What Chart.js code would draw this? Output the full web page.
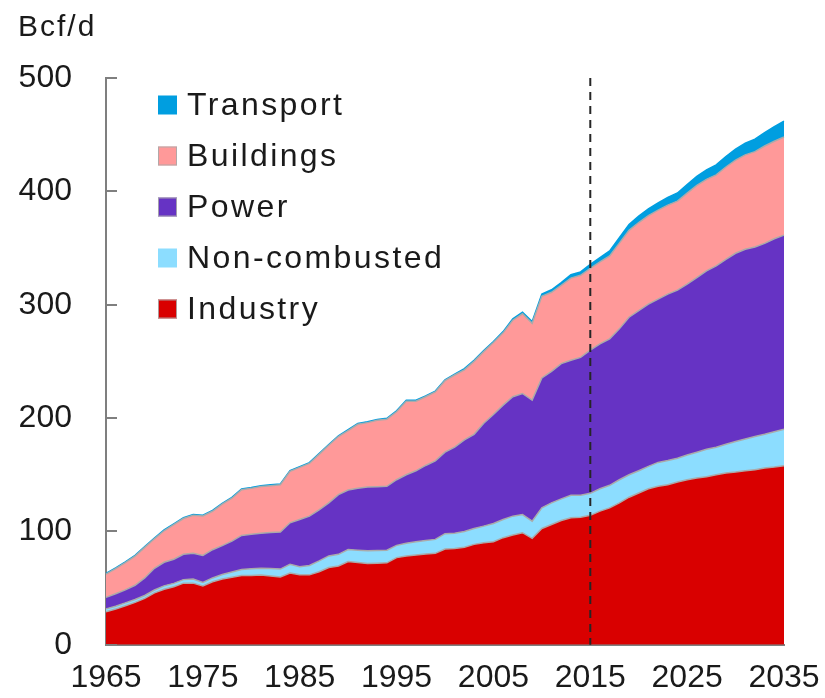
<!DOCTYPE html>
<html>
<head>
<meta charset="utf-8">
<script src="https://cdn.jsdelivr.net/npm/chart.js@4.4.1/dist/chart.umd.min.js"></script>
<style>
  html, body { margin: 0; padding: 0; background: #fff; }
  #wrap { width: 825px; height: 698px; }
</style>
</head>
<body>
<div id="wrap"><canvas id="chart"></canvas></div>
<script>
// years on the x axis
const years = [
  1965, 1966, 1967, 1968, 1969, 1970, 1971, 1972, 1973, 1974,
  1975, 1976, 1977, 1978, 1979, 1980, 1981, 1982, 1983, 1984,
  1985, 1986, 1987, 1988, 1989, 1990, 1991, 1992, 1993, 1994,
  1995, 1996, 1997, 1998, 1999, 2000, 2001, 2002, 2003, 2004,
  2005, 2006, 2007, 2008, 2009, 2010, 2011, 2012, 2013, 2014,
  2015, 2016, 2017, 2018, 2019, 2020, 2021, 2022, 2023, 2024,
  2025, 2026, 2027, 2028, 2029, 2030, 2031, 2032, 2033, 2034, 2035
];

// Bcf/d per sector (stacked, bottom to top)
const industry = [
  29.2, 31.5, 34.5, 37.4, 41.0, 45.8, 49.0, 51.2, 54.4, 54.4,
  52.0, 55.6, 58.0, 59.6, 61.1, 61.1, 61.6, 60.7, 59.8, 63.3,
  61.7, 61.7, 64.5, 68.2, 69.6, 73.4, 72.5, 71.7, 72.0, 72.3,
  76.9, 78.4, 79.3, 80.0, 80.7, 84.5, 85.0, 86.0, 88.6, 90.1,
  91.0, 94.5, 96.8, 98.9, 93.9, 102.6, 106.1, 109.6, 112.0, 112.6,
  114.2, 117.9, 120.8, 125.2, 130.2, 133.9, 137.7, 139.8, 141.2, 143.6,
  145.6, 147.1, 148.2, 150.0, 151.5, 152.4, 153.5, 154.4, 155.9, 156.8, 157.9
];
const nonCombusted = [
  2.5, 2.5, 2.5, 2.6, 2.5, 2.5, 3.0, 3.0, 3.1, 3.6,
  3.0, 3.4, 4.0, 4.6, 5.4, 5.9, 6.0, 6.5, 7.0, 7.7,
  7.1, 8.3, 9.5, 10.2, 10.2, 10.6, 11.0, 11.3, 11.2, 11.1,
  10.8, 11.1, 11.7, 12.0, 12.3, 13.5, 13.5, 14.0, 14.0, 14.6,
  16.0, 16.0, 16.7, 16.0, 15.2, 18.2, 19.1, 19.1, 19.9, 19.4,
  19.4, 19.8, 19.9, 20.4, 19.8, 19.6, 19.7, 21.1, 21.4, 21.0,
  21.9, 22.8, 24.3, 24.3, 25.4, 26.9, 28.1, 29.3, 29.8, 31.2, 32.2
];
const power = [
  10.1, 11.0, 11.5, 12.5, 15.5, 19.2, 20.8, 21.3, 22.3, 22.7,
  23.8, 24.9, 25.5, 27.3, 30.0, 30.5, 30.7, 31.8, 32.6, 36.6,
  41.8, 43.5, 45.0, 46.8, 52.7, 52.5, 54.5, 56.2, 56.3, 56.4,
  57.9, 60.5, 62.5, 66.2, 69.3, 71.9, 75.8, 80.7, 83.1, 90.7,
  96.2, 100.9, 105.3, 106.8, 106.7, 114.6, 116.0, 119.3, 119.1, 121.5,
  126.4, 127.8, 129.2, 133.1, 139.0, 141.2, 143.2, 144.1, 146.8, 148.3,
  150.7, 154.1, 157.3, 159.9, 163.2, 166.1, 167.3, 167.2, 168.4, 170.2, 171.3
];
const buildings = [
  20.5, 22.2, 24.0, 25.7, 26.9, 26.0, 27.8, 30.5, 31.6, 33.6,
  34.8, 33.9, 36.5, 37.8, 40.3, 40.5, 41.3, 41.4, 41.8, 45.4,
  45.9, 46.5, 49.0, 50.8, 51.2, 52.5, 56.5, 56.8, 58.5, 59.2,
  60.0, 64.9, 61.4, 60.6, 60.7, 63.1, 63.7, 61.9, 64.3, 63.2,
  63.4, 63.8, 67.5, 70.3, 67.8, 72.0, 69.8, 69.0, 72.5, 72.5,
  72.0, 72.2, 73.2, 75.6, 76.6, 77.8, 78.0, 78.4, 78.5, 78.5,
  80.2, 81.2, 80.8, 80.4, 81.4, 82.1, 83.3, 84.1, 85.9, 86.0, 86.6
];
const transport = [
  0.7, 0.7, 0.7, 0.7, 0.7, 0.7, 0.7, 0.7, 0.7, 0.7,
  0.7, 0.7, 0.7, 0.7, 0.7, 0.7, 0.7, 0.7, 0.7, 0.7,
  0.7, 0.7, 0.7, 0.7, 0.7, 0.8, 0.8, 0.8, 0.8, 0.8,
  0.8, 0.8, 0.8, 0.8, 0.8, 0.8, 0.8, 1.0, 1.0, 1.0,
  1.0, 1.1, 1.2, 1.3, 1.5, 2.0, 2.2, 2.6, 3.0, 3.0,
  3.5, 3.9, 4.3, 4.8, 5.2, 5.6, 6.0, 6.4, 6.8, 7.2,
  7.5, 8.0, 8.4, 8.8, 9.2, 9.7, 10.3, 11.0, 11.8, 12.8, 14.0
];

const yTicks = [0, 100, 200, 300, 400, 500];
const outlookStart = 2015; // dashed line: history | projection

const FONT = '"Liberation Sans", Arial, Helvetica, sans-serif';
const EDGE = 'rgba(170,170,170,1)';

// unit label top left
const unitLabel = {
  id: 'unitLabel',
  afterDraw(chart) {
    const ctx = chart.ctx;
    ctx.save();
    ctx.font = '30px ' + FONT;
    ctx.letterSpacing = '2px';
    ctx.fillStyle = '#1a1a1a';
    ctx.textBaseline = 'alphabetic';
    ctx.fillText('Bcf/d', 18, 36);
    ctx.restore();
  }
};

// y ticks pointing into the plot
const innerTicks = {
  id: 'innerTicks',
  afterDraw(chart) {
    const ctx = chart.ctx;
    const y = chart.scales.y;
    const left = chart.chartArea.left;
    ctx.save();
    ctx.strokeStyle = '#7f7f7f';
    ctx.lineWidth = 2;
    y.ticks.forEach(t => {
      const py = Math.round(y.getPixelForValue(t.value));
      ctx.beginPath();
      ctx.moveTo(left, py);
      ctx.lineTo(left + 11, py);
      ctx.stroke();
    });
    ctx.restore();
  }
};

// vertical dashed line at the start of the outlook
const outlookLine = {
  id: 'outlookLine',
  afterDatasetsDraw(chart) {
    const ctx = chart.ctx;
    const x = chart.scales.x.getPixelForValue(years.indexOf(outlookStart));
    const area = chart.chartArea;
    ctx.save();
    ctx.strokeStyle = '#262626';
    ctx.lineWidth = 2;
    ctx.setLineDash([8, 6]);
    ctx.beginPath();
    ctx.moveTo(x, area.top);
    ctx.lineTo(x, area.bottom);
    ctx.stroke();
    ctx.restore();
  }
};

// legend inside the plot, top left, reversed so it reads like the stack
const insideLegend = {
  id: 'insideLegend',
  afterDraw(chart) {
    const ctx = chart.ctx;
    const area = chart.chartArea;
    const items = chart.data.datasets.slice().reverse();
    ctx.save();
    ctx.font = '32px ' + FONT;
    ctx.letterSpacing = '2.4px';
    ctx.textBaseline = 'middle';
    items.forEach((ds, i) => {
      const cy = area.top + 27 + i * 51;
      const bx = area.left + 52;
      ctx.fillStyle = ds.backgroundColor;
      ctx.fillRect(bx, cy - 9.5, 19, 19);
      if (ds.label !== 'Transport' && ds.label !== 'Non-combusted') {
        ctx.strokeStyle = 'rgba(170,170,170,0.9)';
        ctx.lineWidth = 1;
        ctx.strokeRect(bx + 0.5, cy - 9, 18, 18);
      }
      ctx.fillStyle = '#1a1a1a';
      ctx.fillText(ds.label, bx + 29, cy + 1);
    });
    ctx.restore();
  }
};

function areaSet(label, data, color, fill, edge, edgeWidth) {
  return {
    label: label,
    data: data,
    backgroundColor: color,
    borderColor: edge,
    borderWidth: edgeWidth,
    fill: fill,
    pointRadius: 0,
    pointHoverRadius: 0,
    tension: 0
  };
}

const ctx = document.getElementById('chart').getContext('2d');
new Chart(ctx, {
  type: 'line',
  data: {
    labels: years,
    datasets: [
      areaSet('Industry', industry, 'rgb(217,0,0)', 'origin', EDGE, 1.5),
      areaSet('Non-combusted', nonCombusted, 'rgb(140,221,255)', '-1', EDGE, 1.5),
      areaSet('Power', power, 'rgb(102,51,196)', '-1', EDGE, 1.5),
      areaSet('Buildings', buildings, 'rgb(255,153,153)', '-1', EDGE, 1.5),
      areaSet('Transport', transport, 'rgb(0,158,224)', '-1', 'rgb(0,158,224)', 1.5)
    ]
  },
  options: {
    responsive: true,
    maintainAspectRatio: false,
    animation: false,
    layout: { padding: { top: 78, right: 41, bottom: 0, left: 0 } },
    plugins: {
      legend: { display: false },
      tooltip: { enabled: false },
      filler: { propagate: false }
    },
    scales: {
      x: {
        type: 'category',
        offset: false,
        grid: { display: false, drawTicks: false },
        border: { display: true, color: '#7f7f7f', width: 2 },
        afterFit: s => { s.height = 50; s.paddingLeft = 0; s.paddingRight = 0; },
        ticks: {
          autoSkip: false,
          maxRotation: 0,
          minRotation: 0,
          padding: 14,
          color: '#1a1a1a',
          font: { family: FONT, size: 32 },
          callback: function(val, idx) {
            const yr = years[idx];
            return (yr - 1965) % 10 === 0 ? String(yr) : '';
          }
        }
      },
      y: {
        stacked: true,
        min: yTicks[0],
        max: yTicks[yTicks.length - 1],
        grid: { display: false, drawTicks: false },
        border: { display: true, color: '#7f7f7f', width: 2 },
        afterFit: s => { s.width = 106; },
        afterBuildTicks: s => { s.ticks = yTicks.map(v => ({ value: v })); },
        ticks: {
          padding: 34,
          color: '#1a1a1a',
          font: { family: FONT, size: 32 }
        }
      }
    }
  },
  plugins: [outlookLine, innerTicks, insideLegend, unitLabel]
});
</script>
</body>
</html>
